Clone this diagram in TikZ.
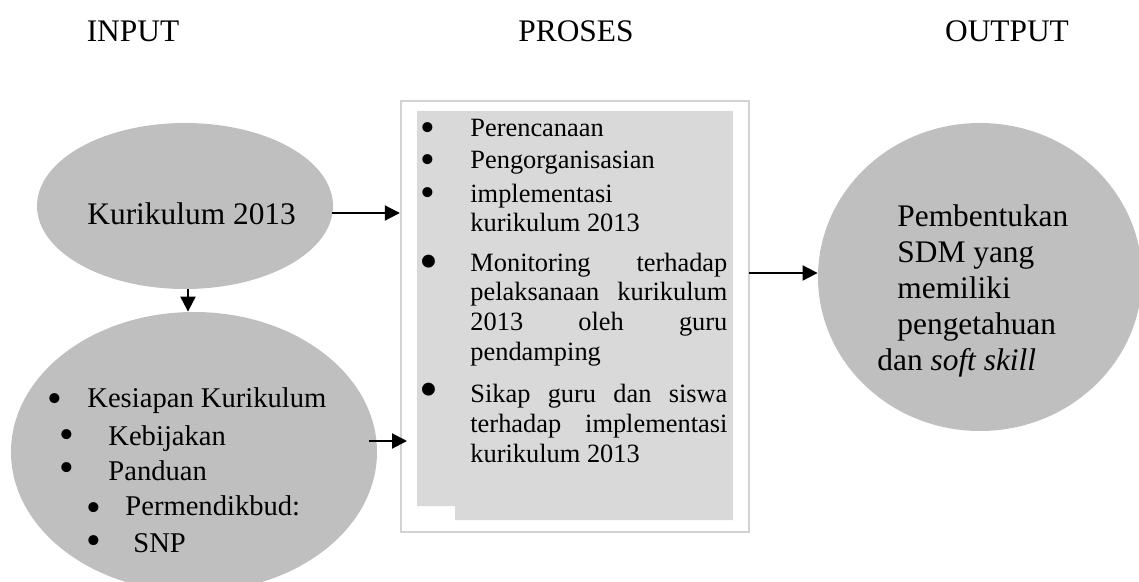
\documentclass[tikz,border=0pt]{standalone}
\usepackage{fontspec}
\setmainfont{Liberation Serif}
\usetikzlibrary{arrows.meta,shapes.geometric}
\definecolor{ovalgray}{HTML}{BFBFBF}
\definecolor{boxgray}{HTML}{D9D9D9}
\definecolor{rimgray}{HTML}{D2D2D2}

\begin{document}
\begin{tikzpicture}[x=0.5pt,y=-0.5pt,
  big/.style={font=\fontsize{15.7}{18}\selectfont,inner sep=0pt},
  lst/.style={font=\fontsize{14.3}{18}\selectfont,anchor=base west,inner sep=0pt},
  dot/.style={font=\fontsize{21}{21}\selectfont,anchor=base west,inner sep=0pt,text depth=0pt},
  bigdot/.style={font=\fontsize{27}{27}\selectfont,anchor=base west,inner sep=0pt,text depth=0pt},
  boxtxt/.style={font=\fontsize{13.2}{14.8}\selectfont,anchor=base west,inner sep=0pt,align=left},
  arr/.style={-{Triangle[length=7.5pt,width=7.5pt]},line width=1pt}]
\path[use as bounding box,clip] (0,0) rectangle (1139,582);

%headings
\node[big,anchor=base] (hin) at (133,42) {INPUT};
\node[big,anchor=base] (hpro) at (576,42) {PROSES};
\node[big,anchor=base] (hout) at (1007,42) {OUTPUT};

%input side
\node[ellipse,fill=ovalgray,minimum width=148pt,minimum height=83pt,inner sep=0pt] (kur) at (185,206) {};
\node[big,anchor=base west] (kurtxt) at (87,225) {Kurikulum 2013};

\node[ellipse,fill=ovalgray,minimum width=183pt,minimum height=140pt,inner sep=0pt] (ind) at (194,452) {};
\node[dot] (ib1) at (47,412) {\textbullet};
\node[lst] (it1) at (87,408) {Kesiapan Kurikulum};
\node[dot] (ib2) at (59,448) {\textbullet};
\node[lst] (it2) at (108,445) {Kebijakan};
\node[dot] (ib3) at (59,481) {\textbullet};
\node[lst] (it3) at (108,480) {Panduan};
\node[dot] (ib4) at (86,521) {\textbullet};
\node[lst] (it4) at (125,515) {Permendikbud:};
\node[dot] (ib5) at (86,554) {\textbullet};
\node[lst] (it5) at (133,552) {SNP};

%process box
\node[draw=rimgray,line width=1.2pt,minimum width=174pt,minimum height=215.5pt,inner sep=0pt] (proc) at (575,316.5) {};
\fill[boxgray] (417,111) -- (733,111) -- (733,520) -- (455,520) -- (455,506) -- (417,506) -- cycle;

% multi-line nodes sit on the baseline of their last line
\node[dot] (pb1) at (420,142) {\textbullet};
\node[boxtxt] (pt1) at (470,137) {Perencanaan};
\node[dot] (pb2) at (420,174) {\textbullet};
\node[boxtxt] (pt2) at (470,169) {Pengorganisasian};
\node[dot] (pb3) at (420,207) {\textbullet};
\node[boxtxt] (pt3) at (470,232) {implementasi\\kurikulum 2013};
\node[bigdot] (pb4) at (419,280) {\textbullet};
\node[boxtxt] (pt4) at (470,360) {\makebox[128.5pt][s]{Monitoring terhadap}\\
  \makebox[128.5pt][s]{pelaksanaan kurikulum}\\\makebox[128.5pt][s]{2013 oleh guru}\\pendamping};
\node[bigdot] (pb5) at (419,408) {\textbullet};
\node[boxtxt] (pt5) at (470,462) {\makebox[128.5pt][s]{Sikap guru dan siswa}\\
  \makebox[128.5pt][s]{terhadap implementasi}\\kurikulum 2013};

%output side
\node[ellipse,fill=ovalgray,minimum width=162pt,minimum height=154pt,inner sep=0pt] (sdm) at (980,277) {};
\node[big,anchor=base west,align=left] (sdmtxt) at (897,371) {Pembentukan\\SDM yang\\memiliki\\pengetahuan\\\hspace*{-10pt}dan \textit{soft skill}};

%arrows
\coordinate (a1) at (332,213);
\coordinate (a2) at (369,441);
\coordinate (a2e) at (407,441);
\coordinate (a3) at (749,273);
\draw[arr] (a1) -- (proc.west |- a1);
\draw[arr] (a2) -- (a2e);
\draw[arr] (a3) -- (sdm.west |- a3);
\draw[arr] ([xshift=1.5pt]kur.south) -- ([xshift=1.5pt]kur.south |- ind.north);
\end{tikzpicture}
\end{document}
